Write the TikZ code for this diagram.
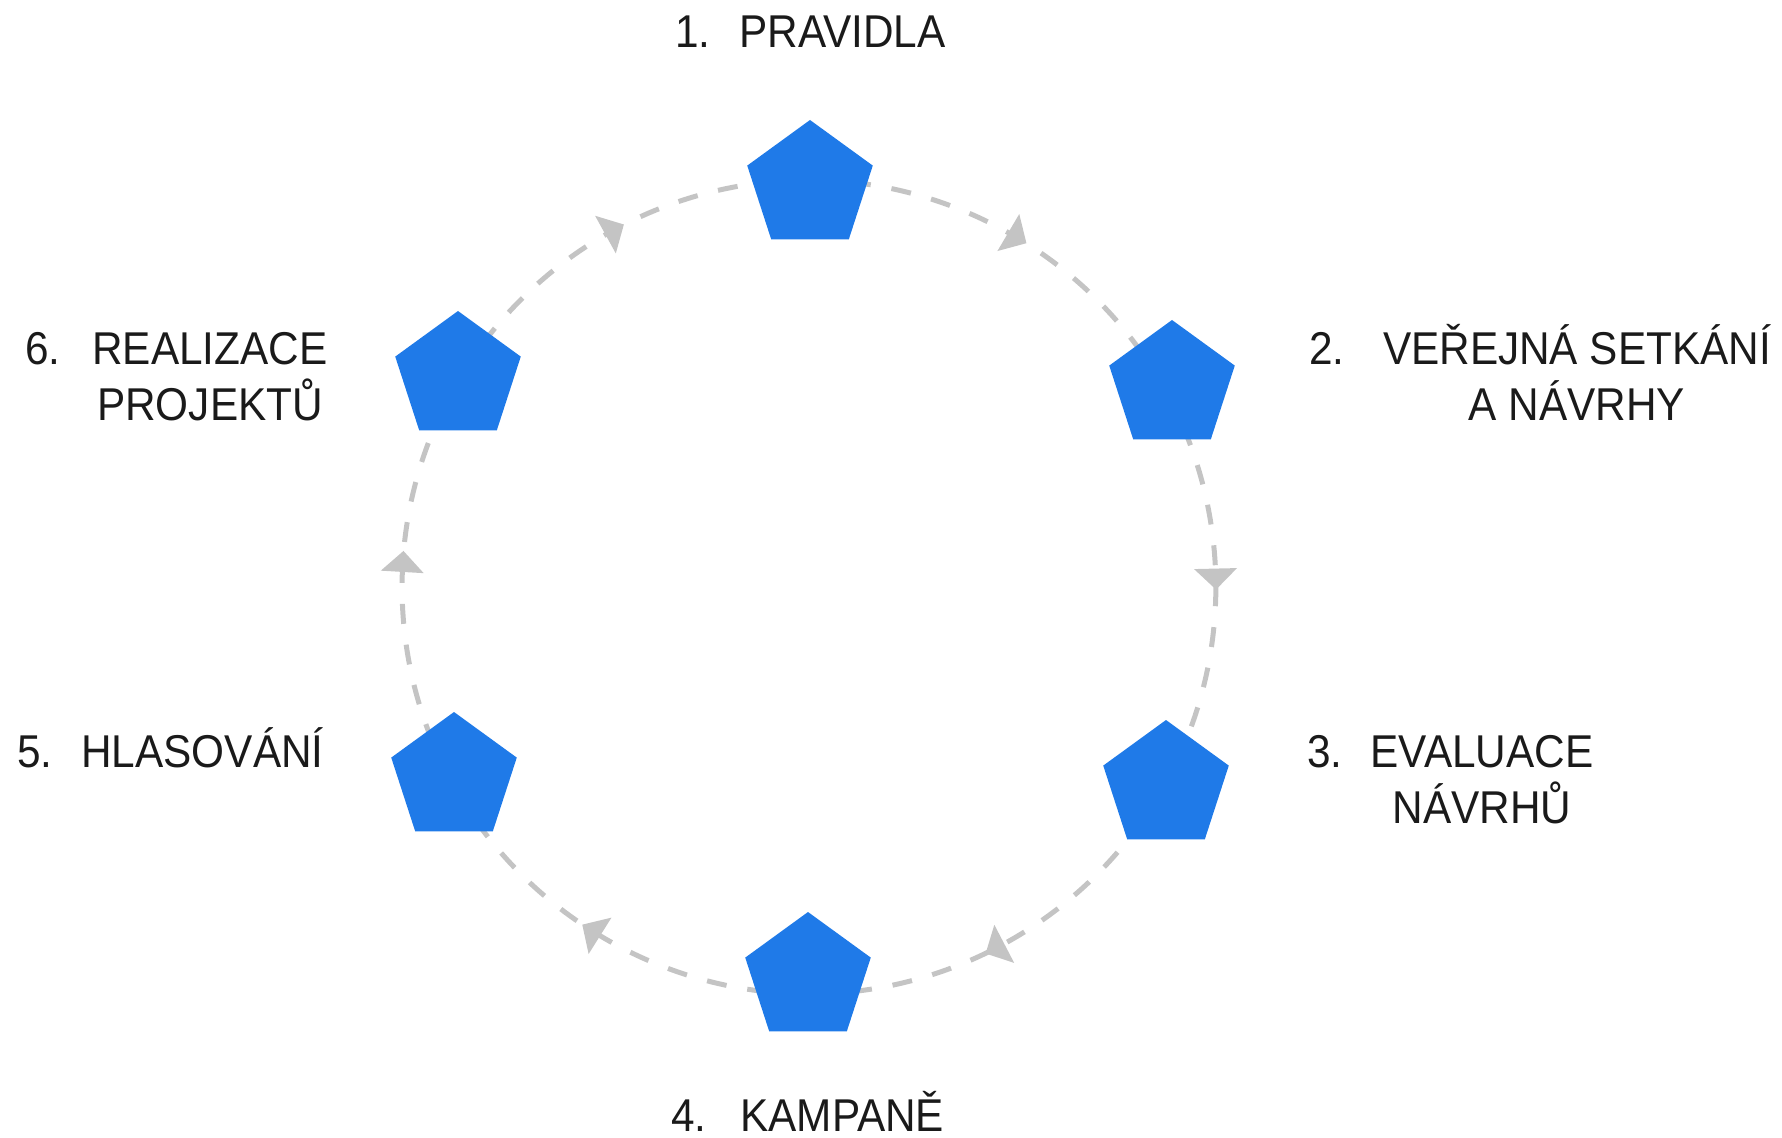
\documentclass[tikz,border=0pt]{standalone}
\usepackage{fontspec}
\setmainfont{Liberation Sans}[FakeStretch=0.92]
\usetikzlibrary{shapes.geometric,backgrounds,calc}
\definecolor{penta}{HTML}{1F7AE8}
\definecolor{ringgray}{HTML}{C4C4C4}
\definecolor{inkcol}{HTML}{1A1A1A}
\begin{document}
\begin{tikzpicture}[x=0.5pt,y=-0.5pt,
  pentabox/.style={regular polygon, regular polygon sides=5, minimum size=66pt, inner sep=0pt, outer sep=0pt, fill=penta, draw=none},
  ringline/.style={draw=ringgray, line width=2.5pt, dash pattern=on 10pt off 10.5pt, looseness=0.91},
  tipbox/.style={isosceles triangle, isosceles triangle stretches, minimum width=21.5pt, minimum height=10.5pt, inner sep=0pt, outer sep=0pt, fill=ringgray, draw=none, sloped, allow upside down},
  numlbl/.style={anchor=base west, inner sep=0pt, text=inkcol, font=\fontsize{23}{28}\selectfont},
  steplbl/.style={anchor=base, inner sep=0pt, text=inkcol, align=center, font=\fontsize{23}{28}\selectfont},
  steplblw/.style={anchor=base west, inner sep=0pt, text=inkcol, font=\fontsize{23}{28}\selectfont}]
\useasboundingbox (0,0) rectangle (1782,1138);

% pentagons
\node[pentabox] (P1) at (810,186) {};
\node[pentabox] (P2) at (1172,386) {};
\node[pentabox] (P3) at (1166,786) {};
\node[pentabox] (P4) at (808,978) {};
\node[pentabox] (P5) at (454,778) {};
\node[pentabox] (P6) at (458,377) {};

% ring: points of the circle behind each pentagon
\coordinate (C) at (809,587);
\coordinate (R1) at ($(C)!203.5pt!(P1.center)$);
\coordinate (R2) at ($(C)!203.5pt!(P2.center)$);
\coordinate (R3) at ($(C)!203.5pt!(P3.center)$);
\coordinate (R4) at ($(C)!203.5pt!(P4.center)$);
\coordinate (R5) at ($(C)!203.5pt!(P5.center)$);
\coordinate (R6) at ($(C)!203.5pt!(P6.center)$);

\begin{pgfonlayer}{background}
\draw[ringline] (R1) to[bend left=30.45] node[tipbox, pos=0.50]  (A12) {} (R2);
\draw[ringline] (R2) to[bend left=29.05] node[tipbox, pos=0.475] (A23) {} (R3);
\draw[ringline] (R3) to[bend left=30.5]  node[tipbox, pos=0.548] (A34) {} (R4);
\draw[ringline] (R4) to[bend left=30.8]  node[tipbox, pos=0.52]  (A45) {} (R5);
\draw[ringline] (R5) to[bend left=29.6]  node[tipbox, pos=0.535] (A56) {} (R6);
\draw[ringline] (R6) to[bend left=29.6]  node[tipbox, pos=0.512] (A61) {} (R1);
\end{pgfonlayer}

% labels
\node[numlbl] (N1) at (675,48) {1.};
\node[steplblw] (T1) at (739,48) {PRAVIDLA};

\node[numlbl] (N2) at (1309,365) {2.};
\node[steplbl] (T2) at (1577,421) {VEŘEJNÁ SETKÁNÍ\\A NÁVRHY};

\node[numlbl] (N3) at (1307,767) {3.};
\node[steplbl] (T3) at (1482,823) {EVALUACE\\NÁVRHŮ};

\node[numlbl] (N4) at (671,1131) {4.};
\node[steplblw] (T4) at (740,1131) {KAMPANĚ};

\node[numlbl] (N5) at (17,767) {5.};
\node[steplblw] (T5) at (81,767) {HLASOVÁNÍ};

\node[numlbl] (N6) at (25,365) {6.};
\node[steplbl] (T6) at (210,421) {REALIZACE\\PROJEKTŮ};
\end{tikzpicture}
\end{document}
